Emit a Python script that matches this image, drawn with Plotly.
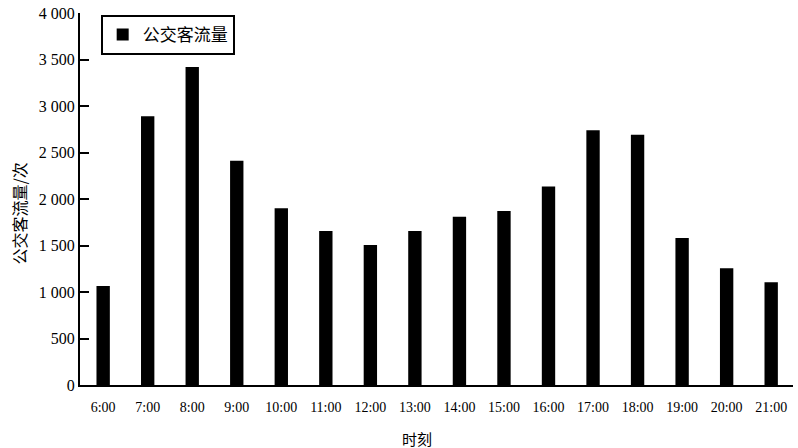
import plotly.graph_objects as go

hours = ["6:00", "7:00", "8:00", "9:00", "10:00", "11:00", "12:00", "13:00",
         "14:00", "15:00", "16:00", "17:00", "18:00", "19:00", "20:00", "21:00"]
flow = [1065, 2890, 3420, 2410, 1900, 1655, 1505, 1655,
        1810, 1870, 2135, 2740, 2690, 1580, 1255, 1105]
y_tickvals = [0, 500, 1000, 1500, 2000, 2500, 3000, 3500, 4000]
y_ticktext = ["0", "500", "1 000", "1 500", "2 000", "2 500", "3 000", "3 500", "4 000"]

FONT = "Times New Roman, Liberation Serif, Noto Sans CJK SC, serif"
CJK = "Noto Sans CJK SC, sans-serif"

fig = go.Figure()
fig.add_trace(go.Bar(
    x=list(range(len(hours))), y=flow, name="公交客流量",
    marker=dict(color="black", line=dict(width=0)),
))

fig.update_layout(
    width=798, height=448,
    margin=dict(l=80, r=5, t=13, b=63, autoexpand=False),
    paper_bgcolor="white", plot_bgcolor="white",
    bargap=0.7,
    font=dict(family=FONT, size=14, color="black"),
    showlegend=True,
    legend=dict(
        x=0.029, y=0.995, xanchor="left", yanchor="top",
        bgcolor="white", bordercolor="black", borderwidth=2,
        font=dict(family=CJK, size=17, color="black"),
        itemwidth=30,
    ),
    xaxis=dict(
        tickvals=list(range(len(hours))), ticktext=hours,
        range=[-0.52, 15.49], automargin=False,
        showline=True, linecolor="black", linewidth=2,
        ticks="", showgrid=False, zeroline=False,
        ticklabelstandoff=8,
        tickfont=dict(family=FONT, size=14),
    ),
    yaxis=dict(
        range=[0, 4000], automargin=False,
        tickvals=y_tickvals, ticktext=y_ticktext,
        showline=True, linecolor="black", linewidth=2,
        ticks="inside", ticklen=9, tickwidth=2, tickcolor="black",
        showgrid=False, zeroline=False,
        tickfont=dict(family=FONT, size=16),
    ),
    annotations=[
        dict(text="时刻", xref="paper", yref="paper", x=0.473, y=-0.145,
             xanchor="center", yanchor="middle", showarrow=False,
             font=dict(family=CJK, size=15, color="black")),
        dict(text="公交客流量/次", xref="paper", yref="paper", x=-0.086, y=0.46,
             xanchor="center", yanchor="middle", showarrow=False, textangle=-90,
             font=dict(family=CJK, size=16, color="black")),
    ],
)

fig.write_html("out.html", post_script="document.body.style.margin='0';",
               config={"displayModeBar": False})
